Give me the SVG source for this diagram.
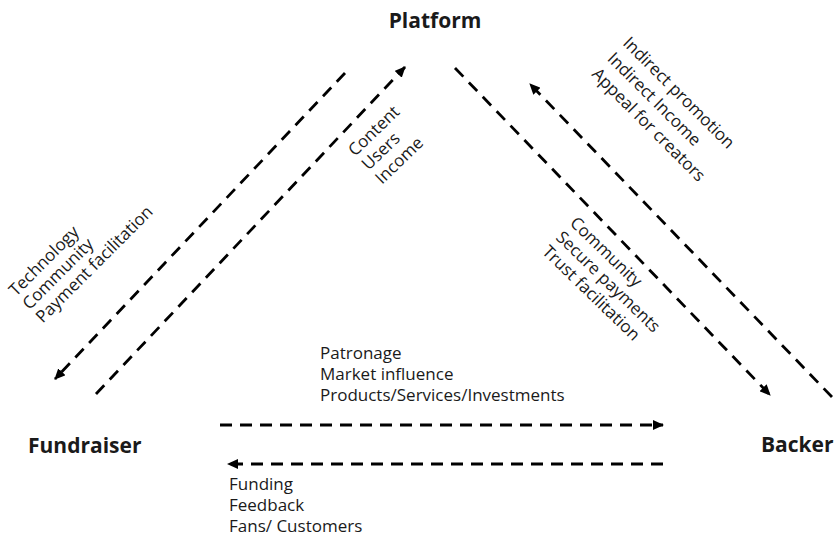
<svg xmlns="http://www.w3.org/2000/svg" width="839" height="537" viewBox="0 0 839 537">
<style>
.lbl{font-family:"Open Sans","Liberation Sans",sans-serif;font-size:17px;fill:#1a1a1a}
.node{font-family:"Open Sans","Liberation Sans",sans-serif;font-size:21px;font-weight:bold;fill:#1a1a1a}
.flow{fill:none;stroke:#000;stroke-width:2.8;stroke-dasharray:12 8}
</style>
<defs>
<marker id="ah" markerUnits="userSpaceOnUse" markerWidth="12" markerHeight="10" refX="10" refY="5" orient="auto">
<path d="M0,0 L11,5 L0,10 Z" fill="#000"/>
</marker>
</defs>
<rect width="839" height="537" fill="#fff"/>
<g id="connectors">
<line class="flow" x1="345" y1="73" x2="55" y2="379" marker-end="url(#ah)"/>
<line class="flow" x1="96" y1="394" x2="405" y2="67" marker-end="url(#ah)"/>
<line class="flow" x1="455" y1="68" x2="770" y2="395" marker-end="url(#ah)"/>
<line class="flow" x1="832" y1="397" x2="530" y2="84" marker-end="url(#ah)"/>
<line class="flow" x1="220" y1="425" x2="663" y2="425" marker-end="url(#ah)"/>
<line class="flow" x1="663" y1="464" x2="228" y2="464" marker-end="url(#ah)"/>
</g>
<g id="platform"><text class="node" x="435" y="28" text-anchor="middle">Platform</text></g>
<g id="fundraiser"><text class="node" x="28" y="453">Fundraiser</text></g>
<g id="backer"><text class="node" x="761" y="452">Backer</text></g>
<g id="label-fundraiser-platform">
<text class="lbl" transform="translate(16,297) rotate(-45)"><tspan x="0" dy="0">Technology</tspan><tspan x="0" dy="19">Community</tspan><tspan x="0" dy="19">Payment facilitation</tspan></text>
</g>
<g id="label-platform-fundraiser">
<text class="lbl" transform="translate(355,157) rotate(-44)"><tspan x="0" dy="0">Content</tspan><tspan x="0" dy="19.5">Users</tspan><tspan x="0" dy="19.5">Income</tspan></text>
</g>
<g id="label-backer-platform">
<text class="lbl" transform="translate(622,44) rotate(45)"><tspan x="0" dy="0">Indirect promotion</tspan><tspan x="0" dy="22">Indirect Income</tspan><tspan x="0" dy="22">Appeal for creators</tspan></text>
</g>
<g id="label-platform-backer">
<text class="lbl" transform="translate(569,224) rotate(44)"><tspan x="0" dy="0">Community</tspan><tspan x="0" dy="20">Secure payments</tspan><tspan x="0" dy="20">Trust facilitation</tspan></text>
</g>
<g id="label-fundraiser-backer">
<text class="lbl" x="320" y="359"><tspan x="320" dy="0">Patronage</tspan><tspan x="320" dy="21">Market influence</tspan><tspan x="320" dy="21">Products/Services/Investments</tspan></text>
</g>
<g id="label-backer-fundraiser">
<text class="lbl" x="229" y="490"><tspan x="229" dy="0">Funding</tspan><tspan x="229" dy="21">Feedback</tspan><tspan x="229" dy="21">Fans/ Customers</tspan></text>
</g>
</svg>
